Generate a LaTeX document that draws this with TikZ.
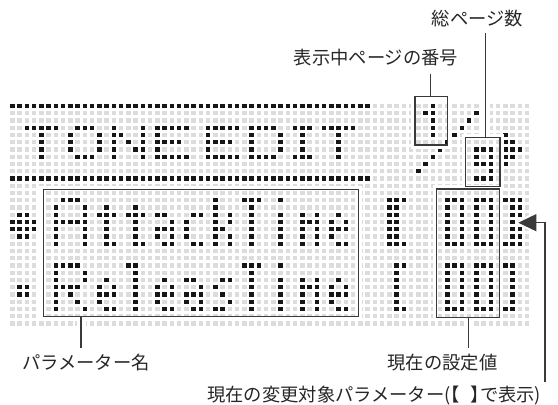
\documentclass[tikz,border=0pt]{standalone}
\usepackage{fontspec}
\newfontfamily\jpfont{Noto Sans CJK JP}
\usetikzlibrary{arrows.meta, positioning, fit, backgrounds}
\definecolor{pixeloff}{HTML}{DCDCDC}
\definecolor{pixelon}{HTML}{161616}
\definecolor{frameline}{HTML}{3A3A3A}
\definecolor{labeltext}{HTML}{262626}
\pgfdeclarelayer{pixels}
\pgfdeclarelayer{background}
\pgfsetlayers{pixels,background,main}
\newcommand{\lcdpixel}[3]{%
  \fill[#3] ({12.3+7.25*#1-2.2},{106+7.25*#2-2.2}) rectangle ++(4.4,4.4);}
\newcommand{\lcdrow}[2]{%
  \foreach \c in {#2} {\lcdpixel{\c}{#1}{pixelon}}}
\newcommand{\leftlent}{\makebox[0.5em][r]{【}}
\newcommand{\rightlent}{\makebox[0.5em][l]{】}}
\tikzset{
  lcdframe/.style={
    rectangle, draw=frameline, line width=1.4pt, inner sep=0pt, outer sep=0pt
  },
  halo/.style={draw=white, line width=#1},
  halo/.default=4pt,
  leader/.style={draw=frameline, line width=1.1pt},
  pointer/.style={leader, -{Triangle[length=18pt, width=17pt]}},
  tag/.style={
    font=\jpfont\fontsize{18.3}{22}\selectfont, text=labeltext,
    inner sep=0pt, anchor=base
  }
}

\begin{document}
\begin{tikzpicture}[x=1pt, y=-1pt]
  \useasboundingbox (0,0) rectangle (558,405);

  % LCD dot matrix
  \begin{pgfonlayer}{pixels}
    \foreach \c in {0,...,71}
      \foreach \r in {0,...,30}
        {\lcdpixel{\c}{\r}{pixeloff}}
    \foreach \c in {0,...,49}
      {\lcdpixel{\c}{0}{pixelon}\lcdpixel{\c}{10}{pixelon}}
    % TONE EDIT and page count
    \lcdrow{0}{58}
    \lcdrow{1}{57,58,64}
    \lcdrow{2}{58,63}
    \lcdrow{3}{2,3,4,5,6,9,10,11,14,18,20,21,22,23,24,27,28,29,30,31,33,34,35,36,39,40,41,43,44,45,46,47,58,62}
    \lcdrow{4}{4,8,12,14,15,18,20,27,33,37,40,45,58,61,68}
    \lcdrow{5}{4,8,12,14,16,18,20,21,22,23,27,28,29,30,33,37,40,45,60,68,69}
    \lcdrow{6}{4,8,12,14,17,18,20,27,33,37,40,45,59,64,65,66,68,69,70}
    \lcdrow{7}{4,9,10,11,14,18,20,21,22,23,24,27,28,29,30,31,33,34,35,36,39,40,41,45,58,64,66,68,69}
    \lcdrow{8}{57,64,65,66,68}
    \lcdrow{9}{56,66}
    \lcdrow{10}{64,65,66}
    % AttackTime
    \lcdrow{13}{7,8,9,28,32,33,34,37,52,53,54,60,61,62,64,65,66,68,69,70}
    \lcdrow{14}{6,10,13,17,28,33,52,53,60,62,64,66,69,70}
    \lcdrow{15}{1,2,6,10,12,13,14,16,17,18,20,21,25,26,28,30,33,37,40,42,45,52,53,60,62,64,66,69,70}
    \lcdrow{16}{0,1,2,3,6,7,8,9,10,13,17,22,24,28,30,33,37,40,41,42,44,46,52,53,60,62,64,66,69}
    \lcdrow{17}{0,1,2,3,6,10,13,17,20,21,22,24,28,29,33,37,40,42,44,45,46,52,53,60,62,64,66,69,70}
    \lcdrow{18}{1,2,6,10,13,17,20,22,24,28,30,33,37,40,42,44,52,53,60,62,64,66,69,70}
    \lcdrow{19}{6,10,13,14,17,18,21,22,25,26,28,30,33,37,40,42,45,46,52,53,54,60,61,62,64,65,66,68,69,70}
    % ReleasTime
    \lcdrow{22}{6,7,8,9,16,17,32,33,34,37,53,54,60,61,62,64,65,66,68,69}
    \lcdrow{23}{6,10,17,33,53,60,62,64,66,69}
    \lcdrow{24}{6,10,13,17,21,24,25,29,30,33,37,40,42,45,53,60,62,64,66,69}
    \lcdrow{25}{1,2,6,7,8,9,12,14,17,20,22,26,28,33,37,40,41,42,44,46,53,60,62,64,66,69}
    \lcdrow{26}{1,2,6,8,12,13,14,17,20,21,22,24,25,26,29,33,37,40,42,44,45,46,53,60,62,64,66,69}
    \lcdrow{27}{6,9,12,17,20,24,26,30,33,37,40,42,44,53,60,62,64,66,69}
    \lcdrow{28}{6,10,13,14,17,21,22,25,26,28,29,33,37,40,42,45,46,53,54,60,61,62,64,65,66,68,69}
  \end{pgfonlayer}

  % Frames
  \node[lcdframe, minimum width=315pt, minimum height=127pt] (namebox) at (200.8,253.2) {};
  \node[lcdframe, minimum width=62.6pt, minimum height=128.3pt] (valuebox) at (468,253.15) {};
  \node[lcdframe, minimum width=32.7pt, minimum height=48.3pt] (pagebox) at (431.35,120.85) {};
  \node[lcdframe, minimum width=34.3pt, minimum height=49pt] (totalbox) at (482.85,162.2) {};

  % Labels
  \node[tag] (totallabel) at (477.5,25.5) {総ページ数};
  \node[tag] (pagelabel) at (376,64) {表示中ページの番号};
  \node[tag] (namelabel) at (86,369.5) {パラメーター名};
  \node[tag] (valuelabel) at (442.5,369.5) {現在の設定値};
  \node[tag, anchor=base west] (cursorlabel) at (207,401.5)
    {現在の変更対象パラメーター(\leftlent\hspace{0.6em}\rightlent で表示)};

  \coordinate (totaltop) at (485.7,33);
  \coordinate (pagetop) at (430.7,74);
  \coordinate (namefoot) at (81,348);
  \coordinate (valuefoot) at (468.3,348);
  \coordinate (cursorfoot) at (545,381.7);
  \coordinate (cursortip) at (518.3,222.7);

  % White clearance round frames and leaders
  \begin{scope}[on background layer]
    \foreach \frm in {namebox, valuebox, pagebox, totalbox}
      \node[halo, fit=(\frm), inner sep=2pt] {};
    \draw[halo=9pt] (totaltop) -- (totaltop |- totalbox.north);
    \draw[halo=9pt] (pagetop) -- (pagetop |- pagebox.north);
    \draw[halo=9pt] (namefoot |- namebox.south) -- (namefoot);
    \draw[halo=9pt] (valuefoot |- valuebox.south) -- (valuefoot);
    \draw[halo=6pt, -{Triangle[length=22pt, width=23pt]}, shorten >=-3pt]
      (cursorfoot) |- (cursortip);
  \end{scope}

  % Leaders
  \draw[leader] (totaltop) -- (totaltop |- totalbox.north);
  \draw[leader] (pagetop) -- (pagetop |- pagebox.north);
  \draw[leader] (namefoot |- namebox.south) -- (namefoot);
  \draw[leader] (valuefoot |- valuebox.south) -- (valuefoot);
  \draw[pointer] (cursorfoot) |- (cursortip);

\end{tikzpicture}
\end{document}
